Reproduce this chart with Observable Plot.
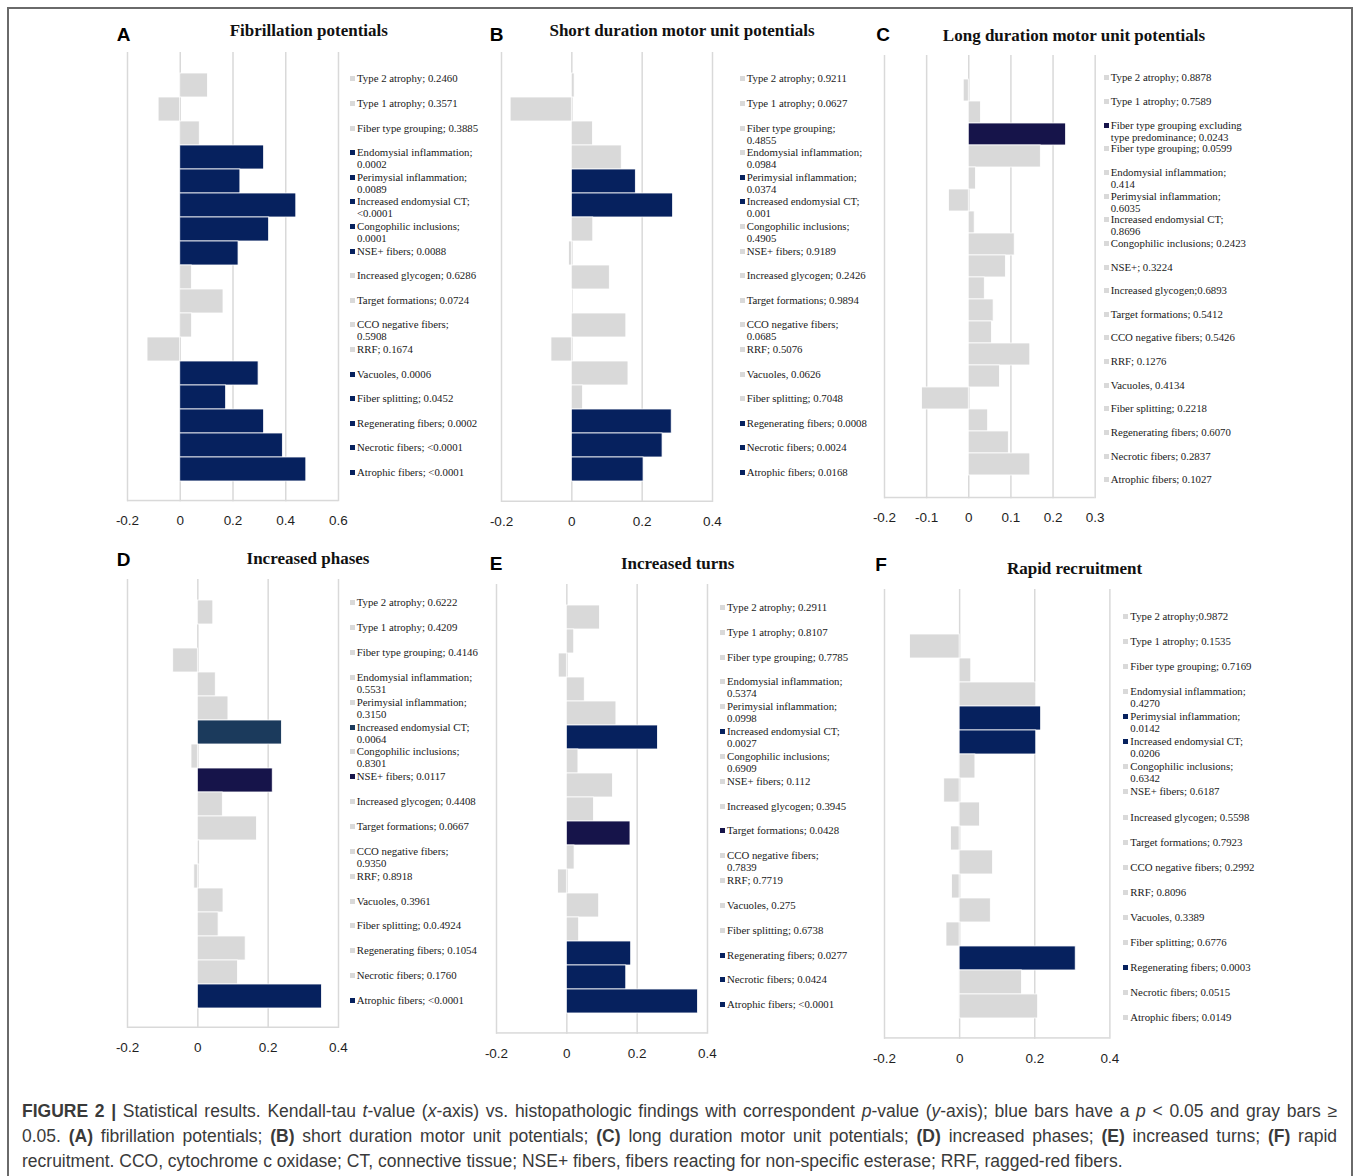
<!DOCTYPE html>
<html>
<head>
<meta charset="utf-8">
<script src="https://cdn.jsdelivr.net/npm/d3@7"></script>
<script src="https://cdn.jsdelivr.net/npm/@observablehq/plot@0.6"></script>
<style>
  html, body { margin: 0; padding: 0; background: #fff; }
  #fig { position: relative; width: 1358px; height: 1176px; overflow: hidden; background: #fff; }
  .box { position: absolute; left: 7px; top: 7px; width: 1346px; height: 1240px;
         border: 2px solid #6a6a6a; border-right-width: 2.5px; box-sizing: border-box; }
  .letter { position: absolute; font: bold 19px "Liberation Sans", Arial, sans-serif; color: #000;
            transform: translate(-50%, -50%); white-space: nowrap; }
  .title { position: absolute; font: bold 17px "Liberation Serif", "Times New Roman", serif; color: #111;
           transform: translate(-50%, -50%); white-space: nowrap; }
  .leg { position: absolute; font: 10.8px "Liberation Serif", "Times New Roman", serif; color: #1a1a1a;
         line-height: 12px; white-space: pre; }
  .leg .mk { position: absolute; left: -7px; top: 4px; width: 5px; height: 5px; }
  .cap { position: absolute; left: 22px; width: 1315px; font: 17.5px "Liberation Sans", Arial, sans-serif;
         color: #3a3a3a; line-height: 25px; text-align: justify; text-align-last: justify; }
  .cap.last { text-align-last: left; }
  .plot { position: absolute; }
</style>
</head>
<body>
<div id="fig"><div class="box"></div></div>
<script>
// ---------- data ----------
const categories = ["Type 2 atrophy","Type 1 atrophy","Fiber type grouping","Endomysial inflammation",
  "Perimysial inflammation","Increased endomysial CT","Congophilic inclusions","NSE+ fibers",
  "Increased glycogen","Target formations","CCO negative fibers","RRF","Vacuoles","Fiber splitting",
  "Regenerating fibers","Necrotic fibers","Atrophic fibers"];
const categoriesC = ["Type 2 atrophy","Type 1 atrophy","Fiber type grouping excluding type predominance",
  "Fiber type grouping","Endomysial inflammation","Perimysial inflammation","Increased endomysial CT",
  "Congophilic inclusions","NSE+ fibers","Increased glycogen","Target formations","CCO negative fibers",
  "RRF","Vacuoles","Fiber splitting","Regenerating fibers","Necrotic fibers","Atrophic fibers"];

const ticksA = [-0.2, 0, 0.2, 0.4, 0.6];
const ticksC = [-0.2, -0.1, 0, 0.1, 0.2, 0.3];
const ticks04 = [-0.2, 0, 0.2, 0.4];

const valuesA = [0.105,-0.082,0.074,0.318,0.228,0.440,0.337,0.221,0.044,0.164,0.045,-0.124,0.297,0.174,0.318,0.389,0.478];
const valuesB = [0.008,-0.174,0.060,0.142,0.182,0.288,0.061,-0.008,0.108,0.001,0.155,-0.058,0.161,0.032,0.284,0.258,0.204];
const valuesC = [-0.012,0.029,0.231,0.171,0.017,-0.047,0.014,0.109,0.088,0.038,0.059,0.055,0.146,0.074,-0.111,0.046,0.095,0.146];
const valuesD = [0.044,0,-0.070,0.051,0.087,0.239,-0.018,0.213,0.071,0.168,0.006,-0.010,0.073,0.059,0.136,0.114,0.353];
const valuesE = [0.094,0.021,-0.023,0.051,0.141,0.259,0.033,0.131,0.077,0.181,0.022,-0.025,0.092,0.035,0.183,0.169,0.373];
const valuesF = [0,-0.132,0.031,0.204,0.217,0.204,0.042,-0.041,0.054,-0.023,0.089,-0.020,0.083,-0.035,0.309,0.166,0.209];

// g = gray (p >= 0.05), n = blue, p = dark violet-blue, s = slate blue
const groupsA = ["g","g","g","n","n","n","n","n","g","g","g","g","n","n","n","n","n"];
const groupsB = ["g","g","g","g","n","n","g","g","g","g","g","g","g","g","n","n","n"];
const groupsC = ["g","g","p","g","g","g","g","g","g","g","g","g","g","g","g","g","g","g"];
const groupsD = ["g","g","g","g","g","s","g","p","g","g","g","g","g","g","g","g","n"];
const groupsE = ["g","g","g","g","g","n","g","g","g","p","g","g","g","g","n","n","n"];
const groupsF = ["g","g","g","g","n","n","g","g","g","g","g","g","g","g","n","g","g"];

const labelsA = ["Type 2 atrophy; 0.2460","Type 1 atrophy; 0.3571","Fiber type grouping; 0.3885",
  "Endomysial inflammation;\n0.0002","Perimysial inflammation;\n0.0089","Increased endomysial CT;\n<0.0001",
  "Congophilic inclusions;\n0.0001","NSE+ fibers; 0.0088","Increased glycogen; 0.6286","Target formations; 0.0724",
  "CCO negative fibers;\n0.5908","RRF; 0.1674","Vacuoles, 0.0006","Fiber splitting; 0.0452",
  "Regenerating fibers; 0.0002","Necrotic fibers; <0.0001","Atrophic fibers; <0.0001"];
const labelsB = ["Type 2 atrophy; 0.9211","Type 1 atrophy; 0.0627","Fiber type grouping;\n0.4855",
  "Endomysial inflammation;\n0.0984","Perimysial inflammation;\n0.0374","Increased endomysial CT;\n0.001",
  "Congophilic inclusions;\n0.4905","NSE+ fibers; 0.9189","Increased glycogen; 0.2426","Target formations; 0.9894",
  "CCO negative fibers;\n0.0685","RRF; 0.5076","Vacuoles, 0.0626","Fiber splitting; 0.7048",
  "Regenerating fibers; 0.0008","Necrotic fibers; 0.0024","Atrophic fibers; 0.0168"];
const labelsC = ["Type 2 atrophy; 0.8878","Type 1 atrophy; 0.7589","Fiber type grouping excluding\ntype predominance; 0.0243",
  "Fiber type grouping; 0.0599","Endomysial inflammation;\n0.414","Perimysial inflammation;\n0.6035",
  "Increased endomysial CT;\n0.8696","Congophilic inclusions; 0.2423","NSE+; 0.3224","Increased glycogen;0.6893",
  "Target formations; 0.5412","CCO negative fibers; 0.5426","RRF; 0.1276","Vacuoles, 0.4134",
  "Fiber splitting; 0.2218","Regenerating fibers; 0.6070","Necrotic fibers; 0.2837","Atrophic fibers; 0.1027"];
const labelsD = ["Type 2 atrophy; 0.6222","Type 1 atrophy; 0.4209","Fiber type grouping; 0.4146",
  "Endomysial inflammation;\n0.5531","Perimysial inflammation;\n0.3150","Increased endomysial CT;\n0.0064",
  "Congophilic inclusions;\n0.8301","NSE+ fibers; 0.0117","Increased glycogen; 0.4408","Target formations; 0.0667",
  "CCO negative fibers;\n0.9350","RRF; 0.8918","Vacuoles, 0.3961","Fiber splitting; 0.0.4924",
  "Regenerating fibers; 0.1054","Necrotic fibers; 0.1760","Atrophic fibers; <0.0001"];
const labelsE = ["Type 2 atrophy; 0.2911","Type 1 atrophy; 0.8107","Fiber type grouping; 0.7785",
  "Endomysial inflammation;\n0.5374","Perimysial inflammation;\n0.0998","Increased endomysial CT;\n0.0027",
  "Congophilic inclusions;\n0.6909","NSE+ fibers; 0.112","Increased glycogen; 0.3945","Target formations; 0.0428",
  "CCO negative fibers;\n0.7839","RRF; 0.7719","Vacuoles, 0.275","Fiber splitting; 0.6738",
  "Regenerating fibers; 0.0277","Necrotic fibers; 0.0424","Atrophic fibers; <0.0001"];
const labelsF = ["Type 2 atrophy;0.9872","Type 1 atrophy; 0.1535","Fiber type grouping; 0.7169",
  "Endomysial inflammation;\n0.4270","Perimysial inflammation;\n0.0142","Increased endomysial CT;\n0.0206",
  "Congophilic inclusions;\n0.6342","NSE+ fibers; 0.6187","Increased glycogen; 0.5598","Target formations; 0.7923",
  "CCO negative fibers; 0.2992","RRF; 0.8096","Vacuoles, 0.3389","Fiber splitting; 0.6776",
  "Regenerating fibers; 0.0003","Necrotic fibers; 0.0515","Atrophic fibers; 0.0149"];

const panelLetters = ["A","B","C","D","E","F"];
const panelTitles = ["Fibrillation potentials","Short duration motor unit potentials","Long duration motor unit potentials",
  "Increased phases","Increased turns","Rapid recruitment"];

// ---------- styling / layout ----------
const groupDomain = ["g","n","p","s"];
const groupRange = ["#d9d9d9","#06215e","#16144a","#1b3a5c"];
const groupColor = Object.fromEntries(groupDomain.map((g, i) => [g, groupRange[i]]));

const layout = [
  {cats: categories,  vals: valuesA, groups: groupsA, labels: labelsA, ticks: ticksA, xL: 126.7, xR: 337.7, top: 51.7, bottom: 501, tx: 308.8, ty: 31, lx: 123.7, ly: 35, legX: 357, legY: 78.3, legStep: 24.6},
  {cats: categories,  vals: valuesB, groups: groupsB, labels: labelsB, ticks: ticks04, xL: 500.7, xR: 711.7, top: 51.7, bottom: 501.7, tx: 682, ty: 31, lx: 496.7, ly: 35, legX: 746.7, legY: 78.3, legStep: 24.6},
  {cats: categoriesC, vals: valuesC, groups: groupsC, labels: labelsC, ticks: ticksC, xL: 884.3, xR: 1095, top: 55, bottom: 498.3, tx: 1074, ty: 35.7, lx: 883, ly: 35, legX: 1110.7, legY: 77.3, legStep: 23.65},
  {cats: categories,  vals: valuesD, groups: groupsD, labels: labelsD, ticks: ticks04, xL: 126.7, xR: 337.7, top: 579.3, bottom: 1028.3, tx: 308, ty: 559.3, lx: 123.7, ly: 560, legX: 356.7, legY: 602.3, legStep: 24.86},
  {cats: categories,  vals: valuesE, groups: groupsE, labels: labelsE, ticks: ticks04, xL: 495.7, xR: 706.7, top: 584.3, bottom: 1034, tx: 677.7, ty: 564.3, lx: 496, ly: 564, legX: 727, legY: 607, legStep: 24.83},
  {cats: categories,  vals: valuesF, groups: groupsF, labels: labelsF, ticks: ticks04, xL: 884.3, xR: 1109.7, top: 589.3, bottom: 1039, tx: 1074.5, ty: 569.3, lx: 881, ly: 565, legX: 1130.3, legY: 615.7, legStep: 25.1}
];

const fig = document.getElementById("fig");
function addDiv(cls, text, x, y) {
  const d = document.createElement("div");
  d.className = cls;
  d.textContent = text;
  d.style.left = x + "px";
  d.style.top = y + "px";
  fig.appendChild(d);
  return d;
}

layout.forEach((p, k) => {
  const data = p.cats.map((c, i) => ({cat: c, v: p.vals[i], g: p.groups[i]}));
  const mL = 24, mR = 24, mT = 2, mB = 40;
  const frameH = p.bottom - p.top;
  const domain = [p.ticks[0], p.ticks[p.ticks.length - 1]];
  const chart = Plot.plot({
    width: (p.xR - p.xL) + mL + mR,
    height: frameH + mT + mB,
    marginLeft: mL, marginRight: mR, marginTop: mT, marginBottom: mB,
    style: {fontFamily: "'Liberation Sans', Arial, sans-serif", fontSize: "13px", background: "transparent", color: "#1f1f1f"},
    x: {domain, label: null},
    y: {domain: p.cats, axis: null, padding: 0, insetTop: 18, insetBottom: 18},
    color: {domain: groupDomain, range: groupRange},
    marks: [
      Plot.gridX({ticks: p.ticks, stroke: "#d9d9d9", strokeOpacity: 1, strokeWidth: 1.5}),
      Plot.rect([0], {x1: domain[0], x2: domain[1], insetTop: frameH - 1.5, fill: "#d9d9d9"}),
      Plot.barX(data, {x: "v", y: "cat", fill: "g", stroke: "#ffffff", strokeWidth: 0.8}),
      Plot.axisX({ticks: p.ticks, tickSize: 0, tickPadding: 14, fontSize: 13.5, fill: "#1f1f1f",
                  tickFormat: d => String(d), label: null})
    ]
  });
  chart.classList.add("plot");
  chart.style.left = (p.xL - mL) + "px";
  chart.style.top = (p.top - mT) + "px";
  fig.appendChild(chart);

  addDiv("letter", panelLetters[k], p.lx, p.ly);
  addDiv("title", panelTitles[k], p.tx, p.ty);

  p.labels.forEach((lab, i) => {
    const d = addDiv("leg", lab, p.legX, p.legY + i * p.legStep - 6);
    const mk = document.createElement("span");
    mk.className = "mk";
    mk.style.background = groupColor[p.groups[i]];
    d.appendChild(mk);
  });
});

// ---------- caption ----------
const capLines = [
  '<b>FIGURE 2 |</b> Statistical results. Kendall-tau <i>t</i>-value (<i>x</i>-axis) vs. histopathologic findings with correspondent <i>p</i>-value (<i>y</i>-axis); blue bars have a <i>p</i> &lt; 0.05 and gray bars ≥',
  '0.05. <b>(A)</b> fibrillation potentials; <b>(B)</b> short duration motor unit potentials; <b>(C)</b> long duration motor unit potentials; <b>(D)</b> increased phases; <b>(E)</b> increased turns; <b>(F)</b> rapid',
  'recruitment. CCO, cytochrome c oxidase; CT, connective tissue; NSE+ fibers, fibers reacting for non-specific esterase; RRF, ragged-red fibers.'
];
const capY = [1111.7, 1136.7, 1161];
capLines.forEach((html, i) => {
  const d = document.createElement("div");
  d.className = "cap" + (i === 2 ? " last" : "");
  d.innerHTML = html;
  d.style.top = (capY[i] - 12.5) + "px";
  fig.appendChild(d);
});
</script>
</body>
</html>
